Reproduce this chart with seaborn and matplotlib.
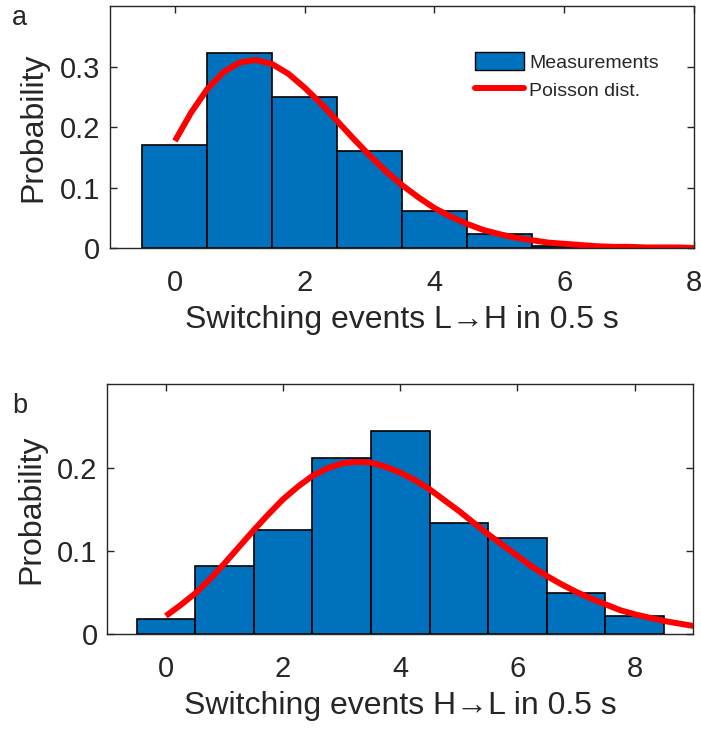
import numpy as np
import pandas as pd
import matplotlib
matplotlib.use("Agg")
import matplotlib.pyplot as plt
import seaborn as sns
from matplotlib.patches import Patch
from matplotlib.lines import Line2D

# histogram data (probability per number of switching events)
events_a = [0, 1, 2, 3, 4, 5, 6]
prob_a = [0.171, 0.322, 0.249, 0.161, 0.061, 0.024, 0.004]
events_b = [0, 1, 2, 3, 4, 5, 6, 7, 8]
prob_b = [0.018, 0.082, 0.125, 0.211, 0.244, 0.133, 0.115, 0.050, 0.022]

# Poisson curves, every 0.25 events
curve_x_a = np.linspace(0, 8, 33)
curve_a = [0.177, 0.224, 0.263, 0.291, 0.307, 0.311, 0.304, 0.288, 0.265, 0.239,
           0.210, 0.181, 0.153, 0.127, 0.104, 0.084, 0.066, 0.052, 0.040, 0.030,
           0.023, 0.017, 0.013, 0.009, 0.007, 0.005, 0.003, 0.002, 0.002, 0.001,
           0.001, 0.001, 0.000]
curve_x_b = np.linspace(0, 9, 37)
curve_b = [0.022, 0.035, 0.049, 0.066, 0.085, 0.105, 0.125, 0.144, 0.162, 0.177,
           0.190, 0.199, 0.205, 0.207, 0.206, 0.201, 0.194, 0.185, 0.174, 0.161,
           0.148, 0.134, 0.120, 0.107, 0.094, 0.081, 0.070, 0.060, 0.051, 0.043,
           0.036, 0.029, 0.024, 0.020, 0.016, 0.013, 0.010]

sns.set_style("ticks")
plt.rcParams['font.family'] = ['Liberation Sans', 'DejaVu Sans']

bar_color = '#0072BD'
dark = '#262626'

fig = plt.figure(figsize=(7.01, 7.31), dpi=100)
ax_a = fig.add_axes([0.157, 0.6607, 0.833, 0.331])
ax_b = fig.add_axes([0.153, 0.1323, 0.836, 0.342])


def draw_panel(ax, ev, pr, cx, cy, xlim, ylim, yticks, xlabel):
    sns.histplot(x=ev, weights=pr, discrete=True, color=bar_color, alpha=1,
                 edgecolor='black', linewidth=1.2, ax=ax)
    sns.lineplot(x=cx, y=cy, color='#FF0000', linewidth=4.3, ax=ax,
                 solid_capstyle='butt')
    ax.set_xlim(*xlim)
    ax.set_ylim(*ylim)
    ax.set_xticks([0, 2, 4, 6, 8])
    ax.set_yticks(yticks)
    ax.set_yticklabels([('0' if t == 0 else f'{t:g}') for t in yticks])
    ax.tick_params(direction='in', length=5, width=1, color=dark,
                   top=True, right=True, labelsize=21, labelcolor=dark)
    ax.tick_params(axis='x', pad=15)
    ax.tick_params(axis='y', pad=7)
    for s in ax.spines.values():
        s.set_color(dark)
        s.set_linewidth(1)
    ax.set_xlabel(xlabel, fontsize=23, color=dark, labelpad=6)
    ax.set_ylabel('Probability', fontsize=23, color=dark, labelpad=8)


draw_panel(ax_a, events_a, prob_a, curve_x_a, curve_a, (-1, 8), (0, 0.4),
           [0, 0.1, 0.2, 0.3], 'Switching events L\u2192H in 0.5 s')
draw_panel(ax_b, events_b, prob_b, curve_x_b, curve_b, (-1, 9), (0, 0.3),
           [0, 0.1, 0.2], 'Switching events H\u2192L in 0.5 s')

handles = [Patch(facecolor=bar_color, edgecolor='black', linewidth=1),
           Line2D([0], [0], color='#FF0000', linewidth=4.3)]
ax_a.legend(handles, ['Measurements', 'Poisson dist.'], loc='upper left',
            bbox_to_anchor=(0.625, 0.81), frameon=False, fontsize=14,
            handlelength=2.5, handleheight=1.05, handletextpad=0.3,
            borderpad=0, borderaxespad=0, labelspacing=0.45)

fig.text(0.017, 0.9658, 'a', fontsize=19.5, va='baseline', ha='left')
fig.text(0.017, 0.435, 'b', fontsize=19.5, va='baseline', ha='left')

fig.savefig('out.png', dpi=100)
